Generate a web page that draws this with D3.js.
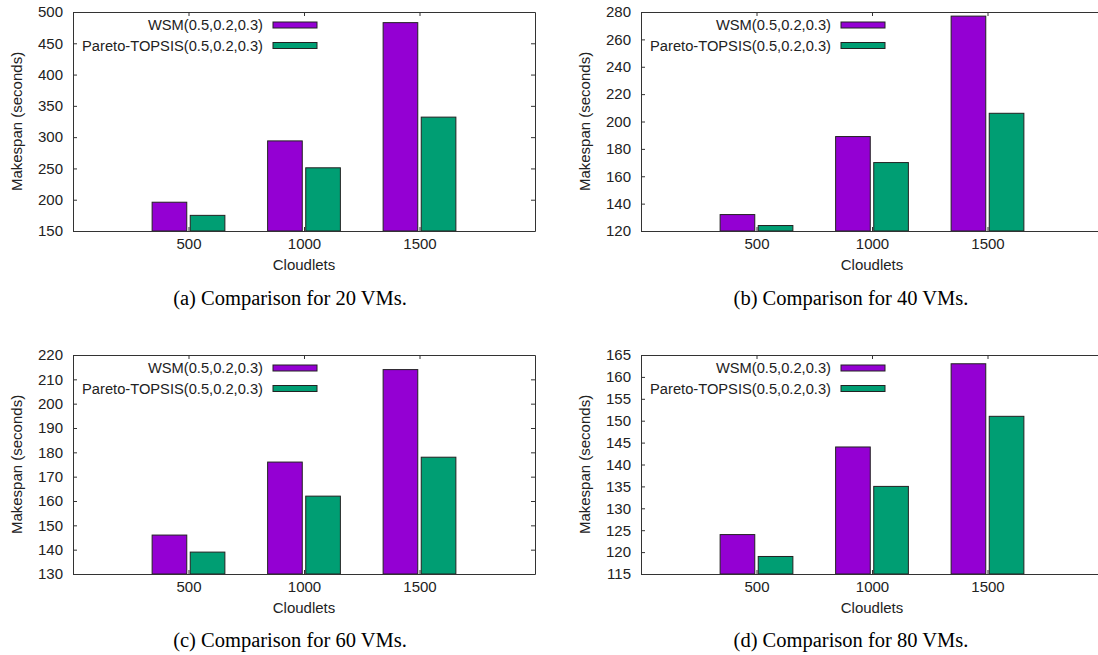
<!DOCTYPE html>
<html>
<head>
<meta charset="utf-8">
<script src="https://cdn.jsdelivr.net/npm/d3@7"></script>
<style>
	body { margin: 0; background: #fff; }
	svg { display: block; }
	.tick text { fill: #222; }
</style>
</head>
<body>
<div id="chart"></div>
<script>
/* DATA */

const categories = ["500", "1000", "1500"];
const seriesNames = ["WSM(0.5,0.2,0.3)", "Pareto-TOPSIS(0.5,0.2,0.3)"];
const captions = [
	"(a) Comparison for 20 VMs.",
	"(b) Comparison for 40 VMs.",
	"(c) Comparison for 60 VMs.",
	"(d) Comparison for 80 VMs.",
];

// makespan per cloudlet count, one pair of arrays per VM count
const wsm20 = [196, 294, 483];
const topsis20 = [175, 251, 332];
const wsm40 = [132, 189, 277];
const topsis40 = [124, 170, 206];
const wsm60 = [146, 176, 214];
const topsis60 = [139, 162, 178];
const wsm80 = [124, 144, 163];
const topsis80 = [119, 135, 151];

const yDomains = [[150, 500], [120, 280], [130, 220], [115, 165]];
const yTickSteps = [50, 20, 10, 5];

/* SET UP */

const w = 1098;
const h = 655;
const pw = 462; // plot width
const ph = 219; // plot height
const colors = ["#9400d3", "#009e73"];
const font = "'Liberation Sans', Arial, sans-serif";

const panels = [
	{ left: 73, top: 12, capX: 290, capY: 305, wsm: wsm20, topsis: topsis20 },
	{ left: 641, top: 12, capX: 851, capY: 305, wsm: wsm40, topsis: topsis40 },
	{ left: 73, top: 355, capX: 290, capY: 647, wsm: wsm60, topsis: topsis60 },
	{ left: 641, top: 355, capX: 851, capY: 647, wsm: wsm80, topsis: topsis80 },
];

const svg = d3
	.select("#chart")
	.append("svg")
	.attr("width", w)
	.attr("height", h);

svg.append("rect").attr("width", w).attr("height", h).attr("fill", "#fff");

// FUNCTION to draw one panel
function makePanel(p, i) {
	const g = svg.append("g").attr("transform", `translate(${p.left},${p.top})`);

	const x = d3.scaleLinear().domain([0, 4]).range([0, pw]);
	const [y0, y1] = yDomains[i];
	const y = d3.scaleLinear().domain([y0, y1]).range([ph, 0]);
	const yTicks = d3.range(y0, y1 + 0.001, yTickSteps[i]);

	const rows = categories.map((c, k) => ({
		k: k + 1,
		values: [p.wsm[k], p.topsis[k]],
	}));

	// bars
	const barW = 0.3;
	const offsets = [-0.165, 0.165];
	rows.forEach((r) => {
		g.selectAll(null)
			.data(r.values)
			.join("rect")
			.attr("x", (d, s) => x(r.k + offsets[s] - barW / 2))
			.attr("y", (d) => y(d))
			.attr("width", x(barW) - x(0))
			.attr("height", (d) => ph - y(d))
			.attr("fill", (d, s) => colors[s])
			.attr("stroke", "#222")
			.attr("stroke-width", 1);
	});

	// axes, gnuplot style: ticks pointing inward on all four sides
	const left = g
		.append("g")
		.call(d3.axisLeft(y).tickValues(yTicks).tickSizeInner(-4).tickSizeOuter(0).tickPadding(10));
	const right = g
		.append("g")
		.attr("transform", `translate(${pw},0)`)
		.call(d3.axisRight(y).tickValues(yTicks).tickSizeInner(-4).tickSizeOuter(0).tickFormat(""));
	const bottom = g
		.append("g")
		.attr("transform", `translate(0,${ph})`)
		.call(
			d3.axisBottom(x)
				.tickValues([1, 2, 3])
				.tickFormat((d) => categories[d - 1])
				.tickSizeInner(-4)
				.tickSizeOuter(0)
				.tickPadding(7.5)
		);
	const top = g
		.append("g")
		.call(d3.axisTop(x).tickValues([1, 2, 3]).tickSizeInner(-4).tickSizeOuter(0).tickFormat(""));

	[left, right, bottom, top].forEach((a) => {
		a.selectAll("path").attr("stroke", "#333");
		a.selectAll("line").attr("stroke", "#333");
		a.selectAll("text").attr("font-family", font).attr("font-size", 15).attr("fill", "#222");
	});

	// axis titles
	g.append("text")
		.attr("transform", `translate(-57,${ph / 2}) rotate(-90)`)
		.attr("text-anchor", "middle")
		.attr("dominant-baseline", "central")
		.attr("font-family", font)
		.attr("font-size", 15)
		.attr("fill", "#222")
		.text("Makespan (seconds)");

	g.append("text")
		.attr("x", pw / 2)
		.attr("y", ph + 39)
		.attr("text-anchor", "middle")
		.attr("font-family", font)
		.attr("font-size", 15)
		.attr("fill", "#222")
		.text("Cloudlets");

	// legend
	const leg = g
		.selectAll(".legend")
		.data(seriesNames)
		.join("g")
		.attr("class", "legend")
		.attr("transform", (d, s) => `translate(0,${13 + s * 20.5})`);

	leg.append("text")
		.attr("x", 190)
		.attr("text-anchor", "end")
		.attr("dominant-baseline", "central")
		.attr("font-family", font)
		.attr("font-size", 14.7)
		.attr("fill", "#222")
		.text((d) => d);

	leg.append("rect")
		.attr("x", 200)
		.attr("y", -3)
		.attr("width", 44)
		.attr("height", 6)
		.attr("fill", (d, s) => colors[s])
		.attr("stroke", "#222")
		.attr("stroke-width", 1);

	// caption below the panel
	svg.append("text")
		.attr("x", p.capX)
		.attr("y", p.capY)
		.attr("text-anchor", "middle")
		.attr("font-family", "'Liberation Serif', 'Times New Roman', serif")
		.attr("font-size", 20.5)
		.attr("fill", "#000")
		.text(captions[i]);
}

panels.forEach(makePanel);
</script>
</body>
</html>
